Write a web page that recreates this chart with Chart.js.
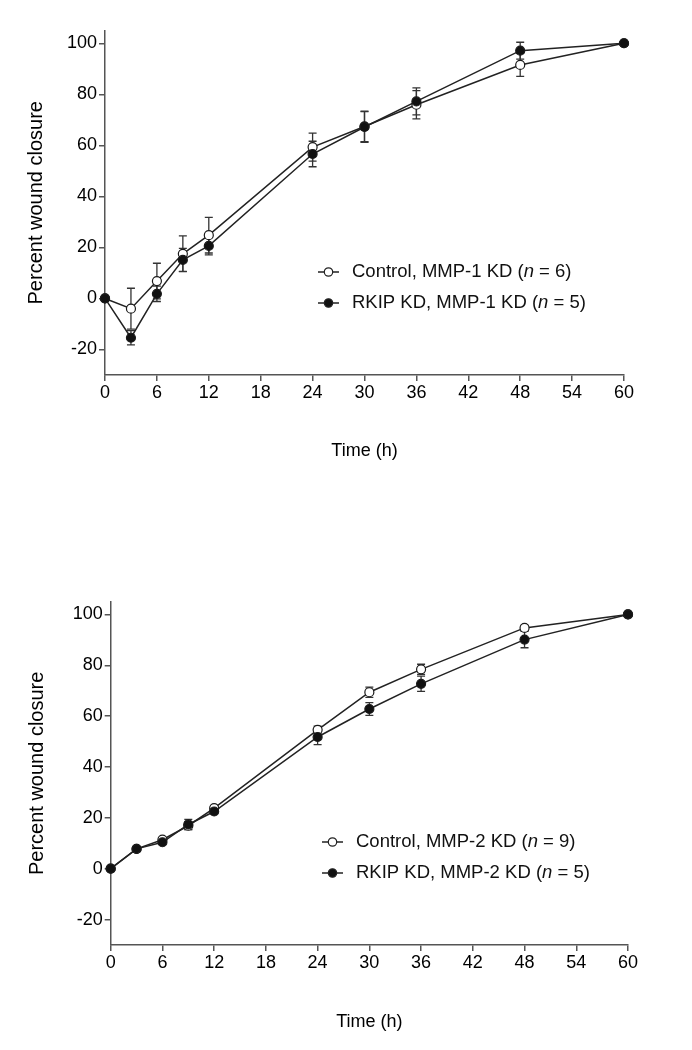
<!DOCTYPE html>
<html>
<head>
<meta charset="utf-8">
<script src="https://cdn.jsdelivr.net/npm/chart.js@4.4.1/dist/chart.umd.min.js"></script>
<style>
    body { margin: 0; background: #fff; }
    canvas { display: block; }
</style>
</head>
<body>
<canvas id="mmp1Chart" width="692" height="525"></canvas>
<canvas id="mmp2Chart" width="692" height="525"></canvas>
<script>
const FONT = "'Liberation Sans', Arial, Helvetica, sans-serif";

const hours = [0, 3, 6, 9, 12, 24, 30, 36, 48, 60];
const xTicks = [0, 6, 12, 18, 24, 30, 36, 42, 48, 54, 60];
const yTicks = [-20, 0, 20, 40, 60, 80, 100];

// MMP-1 knockdown panel
const mmp1Control = [0, -4, 6.8, 17.5, 24.8, 59.3, 67.4, 75.9, 91.5, 100];
const mmp1ControlErr = [0, 8, 7, 7, 7, 5.5, 6, 5.5, 4.5, 0];
const mmp1Rkip = [0, -15.4, 1.8, 15.1, 20.6, 56.6, 67.2, 77.2, 97.1, 100];
const mmp1RkipErr = [0, 2.8, 3, 4.5, 3.5, 5, 6, 5.3, 3.3, 0];
const mmp1Labels = [
    ['Control, MMP-1 KD (', 'n', ' = 6)'],
    ['RKIP KD, MMP-1 KD (', 'n', ' = 5)'],
];

// MMP-2 knockdown panel
const mmp2Control = [0, 7.8, 11.4, 16.9, 23.8, 54.6, 69.4, 78.4, 94.7, 100];
const mmp2ControlErr = [0, 0.5, 0.8, 1.5, 0.8, 1.5, 2, 2, 1, 0];
const mmp2Rkip = [0, 7.8, 10.4, 17.4, 22.5, 51.8, 62.8, 72.7, 90.1, 100];
const mmp2RkipErr = [0, 0.5, 0.8, 2, 0.8, 3, 2.5, 3, 3.2, 0];
const mmp2Labels = [
    ['Control, MMP-2 KD (', 'n', ' = 9)'],
    ['RKIP KD, MMP-2 KD (', 'n', ' = 5)'],
];

// draws the SEM whiskers under the points
const errorBars = {
    id: 'errorBars',
    beforeDatasetsDraw(chart) {
        const {ctx, scales: {x, y}} = chart;
        ctx.save();
        ctx.strokeStyle = '#333';
        ctx.lineWidth = 1.3;
        chart.data.datasets.forEach((ds) => {
            ds.data.forEach((pt, i) => {
                const e = ds.errors[i];
                if (!e) return;
                const px = x.getPixelForValue(pt.x);
                const top = y.getPixelForValue(pt.y + e);
                const bot = y.getPixelForValue(pt.y - e);
                ctx.beginPath();
                ctx.moveTo(px, top); ctx.lineTo(px, bot);
                ctx.moveTo(px - 4, top); ctx.lineTo(px + 4, top);
                ctx.moveTo(px - 4, bot); ctx.lineTo(px + 4, bot);
                ctx.stroke();
            });
        });
        ctx.restore();
    }
};

// legend inside the plot, with italic n
const pointLegend = {
    id: 'pointLegend',
    afterDraw(chart, args, opts) {
        const ctx = chart.ctx;
        ctx.save();
        chart.data.datasets.forEach((ds, i) => {
            const cy = opts.y + i * opts.gap;
            ctx.strokeStyle = '#222';
            ctx.lineWidth = 1.5;
            ctx.beginPath();
            ctx.moveTo(opts.x, cy);
            ctx.lineTo(opts.x + 21, cy);
            ctx.stroke();
            ctx.beginPath();
            ctx.arc(opts.x + 10.5, cy, 4.2, 0, Math.PI * 2);
            ctx.fillStyle = ds.pointBackgroundColor;
            ctx.fill();
            ctx.lineWidth = 1.2;
            ctx.stroke();

            let tx = opts.x + 34;
            ctx.fillStyle = '#111';
            ctx.textBaseline = 'middle';
            opts.labels[i].forEach((part, j) => {
                ctx.font = (j === 1 ? 'italic ' : '') + '18.5px ' + FONT;
                ctx.fillText(part, tx, cy);
                tx += ctx.measureText(part).width;
            });
        });
        ctx.restore();
    }
};

function series(values, errors, fill, order) {
    return {
        data: values.map((v, i) => ({x: hours[i], y: v})),
        errors: errors,
        order: order,
        borderColor: '#222',
        borderWidth: 1.5,
        pointRadius: 4.5,
        pointBorderWidth: 1.2,
        pointBorderColor: '#1a1a1a',
        pointBackgroundColor: fill,
        clip: false,
        tension: 0,
    };
}

function makeChart(id, datasets, labels, lay) {
    return new Chart(document.getElementById(id), {
        type: 'line',
        data: {datasets: datasets},
        options: {
            responsive: false,
            animation: false,
            layout: {
                padding: {left: lay.left, top: lay.top, right: lay.right, bottom: 0}
            },
            scales: {
                x: {
                    type: 'linear',
                    min: 0,
                    max: 60,
                    afterBuildTicks: (s) => { s.ticks = xTicks.map(v => ({value: v})); },
                    afterFit: (s) => { s.height = lay.xHeight; },
                    grid: {drawOnChartArea: false, drawTicks: true, tickLength: 6, color: '#555', lineWidth: 1.5},
                    border: {color: '#555', width: 1.5},
                    ticks: {color: '#000', font: {size: 18, family: FONT}, padding: 1, maxRotation: 0},
                    title: {display: true, text: 'Time (h)', color: '#000',
                        font: {size: 18, family: FONT}, padding: {top: 0, bottom: lay.xTitlePad}},
                },
                y: {
                    type: 'linear',
                    min: -30,
                    max: 105,
                    afterBuildTicks: (s) => { s.ticks = yTicks.map(v => ({value: v})); },
                    afterFit: (s) => { s.width = 95; },
                    grid: {drawOnChartArea: false, drawTicks: true, tickLength: 6, color: '#555', lineWidth: 1.5},
                    border: {color: '#555', width: 1.5},
                    ticks: {color: '#000', font: {size: 18, family: FONT}, padding: 2},
                    title: {display: true, text: 'Percent wound closure', color: '#000',
                        font: {size: 20, family: FONT}, padding: {top: lay.yTitlePad, bottom: 0}},
                },
            },
            plugins: {
                legend: {display: false},
                tooltip: {enabled: false},
                pointLegend: {x: lay.legendX, y: lay.legendY, gap: 31, labels: labels},
            },
        },
        plugins: [errorBars, pointLegend],
    });
}

makeChart('mmp1Chart', [
    series(mmp1Control, mmp1ControlErr, '#fff', 1),
    series(mmp1Rkip, mmp1RkipErr, '#111', 0),
], mmp1Labels, {left: 10, top: 30.5, right: 68, xHeight: 150, xTitlePad: 63,
    yTitlePad: 14, legendX: 318, legendY: 272});

makeChart('mmp2Chart', [
    series(mmp2Control, mmp2ControlErr, '#fff', 1),
    series(mmp2Rkip, mmp2RkipErr, '#111', 0),
], mmp2Labels, {left: 15.7, top: 76.7, right: 64, xHeight: 105, xTitlePad: 17,
    yTitlePad: 10, legendX: 322, legendY: 317});
</script>
</body>
</html>
